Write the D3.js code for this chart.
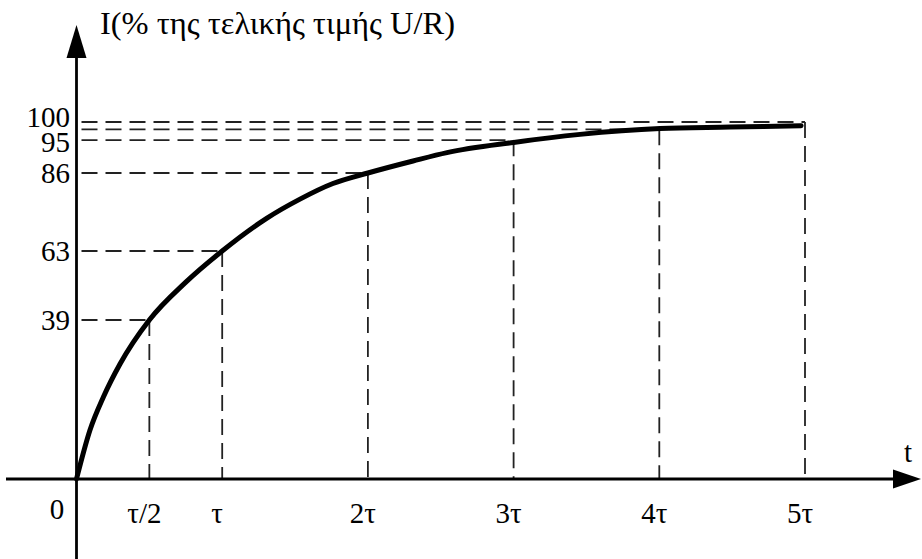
<!DOCTYPE html>
<html>
<head>
<meta charset="utf-8">
<script src="https://cdn.jsdelivr.net/npm/d3@7"></script>
<style>
  html, body { margin: 0; padding: 0; background: #fff; }
  svg { display: block; }
</style>
</head>
<body>
<svg id="chart" width="922" height="559"></svg>
<script>
// ---- data (t in units of τ, I in % of final value U/R) ----
const curveT = [0, 0.0927, 0.1845, 0.2986, 0.5, 0.745, 1, 1.3075, 1.534, 1.76, 2, 2.31, 2.543, 3, 3.456, 4.005, 4.485, 4.973];
const curveI = [0, 12.0, 20.1, 28.2, 39, 51.9, 63, 72.7, 78.3, 82.9, 86, 89.3, 91.6, 94.4, 96.6, 98.2, 98.6, 99.0];

const guideT = [0.5, 1, 2, 3, 4, 5];
const guideI = [39, 63, 86, 95, 98, 100];

const xTickValues = [0.5, 1, 2, 3, 4, 5];
const xTickLabels = ["τ/2", "τ", "2τ", "3τ", "4τ", "5τ"];
const yTickValues = [39, 63, 86, 95, 100];
const yTickLabels = ["39", "63", "86", "95", "100"];

const yTitle = "I(% της τελικής τιμής U/R)";
const xTitle = "t";
const originLabel = "0";

// ---- layout ----
const FONT = "'Liberation Serif', 'DejaVu Serif', 'Times New Roman', serif";
const svg = d3.select("#chart")
  .attr("font-family", FONT)
  .style("font-family", FONT)
  .style("background", "#fff");

const x = d3.scaleLinear().domain([0, 5]).range([76.5, 805]);
// schematic (non-uniform) value axis as drawn in the original figure
const y = d3.scaleLinear().domain([0, 39, 63, 86, 100]).range([479, 320, 251, 173, 122]);

const guides = guideT.map((t, i) => ({ t, v: guideI[i] }));
const pts = curveT.map((t, i) => ({ t, v: curveI[i] }));

// dashed guide lines
const gGuides = svg.append("g")
  .attr("stroke", "#222")
  .attr("stroke-width", 1.8)
  .attr("stroke-dasharray", "16,8")
  .attr("fill", "none");

gGuides.selectAll("line.h").data(guides).join("line")
  .attr("class", "h")
  .attr("x1", x(0) + 5).attr("x2", d => x(d.t))
  .attr("y1", d => y(d.v)).attr("y2", d => y(d.v));

gGuides.selectAll("line.v").data(guides).join("line")
  .attr("class", "v")
  .attr("x1", d => x(d.t)).attr("x2", d => x(d.t))
  .attr("y1", d => y(d.v)).attr("y2", y(0));

// axes
const axisG = svg.append("g");
axisG.append("line")
  .attr("x1", 6).attr("x2", 895)
  .attr("y1", y(0)).attr("y2", y(0))
  .attr("stroke", "#000").attr("stroke-width", 2.8);
axisG.append("path")
  .attr("d", `M893,${y(0) - 9.5} L921,${y(0)} L893,${y(0) + 9.5} Z`)
  .attr("fill", "#000");

axisG.append("line")
  .attr("x1", x(0)).attr("x2", x(0))
  .attr("y1", 559).attr("y2", 56)
  .attr("stroke", "#000").attr("stroke-width", 2.8);
axisG.append("path")
  .attr("d", `M${x(0) - 10},58 L${x(0)},25 L${x(0) + 10},58 Z`)
  .attr("fill", "#000");

// curve
const line = d3.line()
  .x(d => x(d.t))
  .y(d => y(d.v))
  .curve(d3.curveMonotoneX);

svg.append("path")
  .datum(pts)
  .attr("d", line)
  .attr("fill", "none")
  .attr("stroke", "#000")
  .attr("stroke-width", 5)
  .attr("stroke-linecap", "round")
  .attr("stroke-linejoin", "round");

// y tick labels (the top label sits slightly above its line, as in the original)
svg.append("g").selectAll("text").data(yTickValues).join("text")
  .attr("x", 70)
  .attr("y", d => y(d) + (d === 100 ? -5 : (d === 95 ? 2 : 0)))
  .attr("dy", "0.33em")
  .attr("text-anchor", "end")
  .attr("font-size", 29)
  .text((d, i) => yTickLabels[i]);

// x tick labels
svg.append("g").selectAll("text").data(xTickValues).join("text")
  .attr("x", d => x(d) - 5)
  .attr("y", 523)
  .attr("text-anchor", "middle")
  .attr("font-size", 29)
  .text((d, i) => xTickLabels[i]);

svg.append("text")
  .attr("x", 57).attr("y", 519)
  .attr("text-anchor", "middle")
  .attr("font-size", 29)
  .text(originLabel);

svg.append("text")
  .attr("x", 908).attr("y", 462)
  .attr("text-anchor", "middle")
  .attr("font-size", 29)
  .text(xTitle);

const title = svg.append("text")
  .attr("x", 100).attr("y", 34)
  .attr("font-size", 29)
  .text(yTitle);
// fit the title to the width it has in the original figure
const w = title.node().getComputedTextLength();
if (w > 0) title.attr("font-size", Math.min(34, 29 * 355 / w));
</script>
</body>
</html>
